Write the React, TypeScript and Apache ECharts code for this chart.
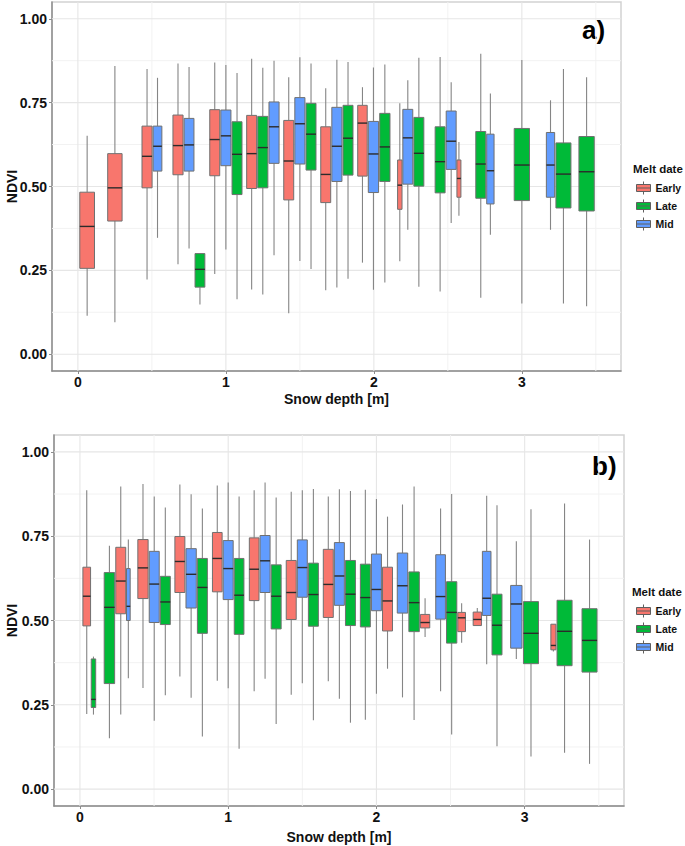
import React, { useEffect, useRef } from "react";
import * as echarts from "echarts";

const meltDates = ["Early", "Late", "Mid"];
const meltColors = ["#F8766D", "#00BA38", "#619CFF"];
const xTickValues = [0, 1, 2, 3];
const xMinorValues = [0.5, 1.5, 2.5, 3.5];
const yTickValues = [0, 0.25, 0.5, 0.75, 1];
const yMinorValues = [0.125, 0.375, 0.625, 0.875];

// [snow-depth bin, melt date, lower whisker, Q1, median, Q3, upper whisker, relative box width (sample size)]
type Box = [number, string, number, number, number, number, number, number];

const panelABoxes: Box[] = [
  [0.0625, "Early", 0.115, 0.256, 0.381, 0.483, 0.651, 0.96],
  [0.25, "Early", 0.095, 0.397, 0.496, 0.598, 0.859, 0.94],
  [0.5, "Early", 0.223, 0.496, 0.59, 0.68, 0.85, 0.66],
  [0.5, "Mid", 0.347, 0.546, 0.62, 0.68, 0.824, 0.57],
  [0.75, "Early", 0.268, 0.535, 0.622, 0.713, 0.867, 0.66],
  [0.75, "Mid", 0.315, 0.546, 0.624, 0.703, 0.856, 0.64],
  [0.75, "Late", 0.148, 0.2, 0.253, 0.3, 0.3, 0.64],
  [1, "Early", 0.239, 0.532, 0.64, 0.729, 0.87, 0.65],
  [1, "Mid", 0.312, 0.562, 0.651, 0.728, 0.862, 0.66],
  [1, "Late", 0.164, 0.476, 0.596, 0.693, 0.838, 0.65],
  [1.25, "Early", 0.193, 0.494, 0.598, 0.712, 0.881, 0.65],
  [1.25, "Late", 0.178, 0.496, 0.616, 0.709, 0.854, 0.66],
  [1.25, "Mid", 0.295, 0.569, 0.678, 0.752, 0.875, 0.66],
  [1.5, "Early", 0.122, 0.46, 0.576, 0.697, 0.826, 0.65],
  [1.5, "Mid", 0.278, 0.567, 0.687, 0.765, 0.885, 0.66],
  [1.5, "Late", 0.254, 0.549, 0.656, 0.748, 0.867, 0.65],
  [1.75, "Early", 0.191, 0.452, 0.536, 0.678, 0.793, 0.65],
  [1.75, "Mid", 0.199, 0.515, 0.62, 0.736, 0.878, 0.66],
  [1.75, "Late", 0.225, 0.534, 0.644, 0.742, 0.871, 0.65],
  [2, "Early", 0.273, 0.531, 0.689, 0.742, 0.796, 0.62],
  [2, "Mid", 0.192, 0.482, 0.597, 0.694, 0.855, 0.67],
  [2, "Late", 0.214, 0.515, 0.618, 0.718, 0.864, 0.67],
  [2.25, "Early", 0.277, 0.432, 0.504, 0.579, 0.748, 0.29],
  [2.25, "Mid", 0.371, 0.507, 0.645, 0.73, 0.817, 0.65],
  [2.25, "Late", 0.201, 0.501, 0.599, 0.706, 0.884, 0.65],
  [2.5, "Late", 0.187, 0.481, 0.574, 0.678, 0.886, 0.65],
  [2.5, "Mid", 0.391, 0.551, 0.635, 0.725, 0.811, 0.65],
  [2.5, "Early", 0.413, 0.468, 0.524, 0.579, 0.633, 0.26],
  [2.75, "Late", 0.168, 0.465, 0.567, 0.664, 0.896, 0.65],
  [2.75, "Mid", 0.356, 0.448, 0.547, 0.656, 0.777, 0.48],
  [3, "Late", 0.151, 0.458, 0.564, 0.673, 0.877, 1.0],
  [3.25, "Mid", 0.371, 0.468, 0.564, 0.661, 0.757, 0.54],
  [3.25, "Late", 0.151, 0.436, 0.537, 0.63, 0.85, 0.98],
  [3.4375, "Late", 0.143, 0.427, 0.544, 0.649, 0.826, 1.0],
];

const panelBBoxes: Box[] = [
  [0.0625, "Early", 0.223, 0.484, 0.572, 0.658, 0.886, 0.5],
  [0.0625, "Late", 0.221, 0.242, 0.266, 0.386, 0.393, 0.29],
  [0.25, "Late", 0.151, 0.313, 0.539, 0.642, 0.722, 0.68],
  [0.25, "Early", 0.221, 0.52, 0.617, 0.717, 0.897, 0.65],
  [0.25, "Mid", 0.329, 0.5, 0.542, 0.654, 0.74, 0.24],
  [0.5, "Early", 0.3, 0.565, 0.656, 0.74, 0.905, 0.67],
  [0.5, "Mid", 0.203, 0.494, 0.608, 0.705, 0.868, 0.65],
  [0.5, "Late", 0.278, 0.488, 0.555, 0.631, 0.835, 0.65],
  [0.75, "Early", 0.334, 0.583, 0.675, 0.749, 0.903, 0.65],
  [0.75, "Mid", 0.271, 0.537, 0.637, 0.713, 0.874, 0.67],
  [0.75, "Late", 0.156, 0.462, 0.598, 0.684, 0.832, 0.65],
  [1, "Early", 0.321, 0.585, 0.684, 0.761, 0.9, 0.63],
  [1, "Mid", 0.299, 0.562, 0.654, 0.737, 0.909, 0.65],
  [1, "Late", 0.12, 0.459, 0.575, 0.684, 0.868, 0.63],
  [1.25, "Early", 0.29, 0.559, 0.652, 0.745, 0.886, 0.63],
  [1.25, "Mid", 0.327, 0.583, 0.677, 0.752, 0.909, 0.65],
  [1.25, "Late", 0.193, 0.475, 0.572, 0.665, 0.865, 0.65],
  [1.5, "Early", 0.28, 0.503, 0.583, 0.678, 0.882, 0.65],
  [1.5, "Mid", 0.314, 0.569, 0.657, 0.739, 0.886, 0.65],
  [1.5, "Late", 0.204, 0.483, 0.577, 0.67, 0.89, 0.65],
  [1.75, "Early", 0.32, 0.509, 0.607, 0.711, 0.868, 0.65],
  [1.75, "Mid", 0.268, 0.545, 0.632, 0.731, 0.889, 0.65],
  [1.75, "Late", 0.197, 0.485, 0.578, 0.678, 0.884, 0.65],
  [2, "Late", 0.206, 0.481, 0.568, 0.667, 0.888, 0.65],
  [2, "Mid", 0.283, 0.529, 0.592, 0.697, 0.86, 0.65],
  [2, "Early", 0.357, 0.469, 0.558, 0.658, 0.808, 0.65],
  [2.25, "Mid", 0.272, 0.522, 0.603, 0.7, 0.844, 0.68],
  [2.25, "Late", 0.205, 0.467, 0.553, 0.644, 0.897, 0.68],
  [2.25, "Early", 0.451, 0.478, 0.494, 0.518, 0.566, 0.61],
  [2.5, "Mid", 0.29, 0.504, 0.571, 0.695, 0.832, 0.63],
  [2.5, "Late", 0.162, 0.433, 0.524, 0.615, 0.875, 0.67],
  [2.5, "Early", 0.434, 0.467, 0.508, 0.524, 0.551, 0.5],
  [2.75, "Early", 0.485, 0.485, 0.503, 0.525, 0.537, 0.54],
  [2.75, "Mid", 0.37, 0.515, 0.566, 0.705, 0.87, 0.56],
  [2.75, "Late", 0.127, 0.398, 0.486, 0.578, 0.842, 0.65],
  [3, "Mid", 0.386, 0.418, 0.549, 0.604, 0.735, 0.74],
  [3, "Late", 0.097, 0.372, 0.462, 0.556, 0.83, 0.98],
  [3.25, "Early", 0.408, 0.413, 0.426, 0.489, 0.489, 0.33],
  [3.25, "Late", 0.108, 0.366, 0.468, 0.56, 0.847, 0.98],
  [3.4375, "Late", 0.075, 0.347, 0.441, 0.535, 0.74, 0.98],
];

const FONT = "'Liberation Sans', Arial, sans-serif";
const SLOT = 0.115; // dodge slot (x data units) of a full-width box
const PAD = 0.9;

function dodge(boxes: Box[]) {
  const bins = new Map<number, Box[]>();
  boxes.forEach((b) => {
    if (!bins.has(b[0])) bins.set(b[0], []);
    bins.get(b[0])!.push(b);
  });
  const out: { melt: string; value: number[] }[] = [];
  bins.forEach((list, bin) => {
    const total = list.reduce((s, b) => s + b[7] * SLOT, 0);
    let cur = bin - total / 2;
    list.forEach((b) => {
      const slot = b[7] * SLOT;
      out.push({ melt: b[1], value: [cur + slot / 2, b[2], b[3], b[4], b[5], b[6], slot * PAD] });
      cur += slot;
    });
  });
  return out;
}

function renderBox(_params: any, api: any) {
  const cx = api.value(0);
  const w = api.value(6);
  const pLo = api.coord([cx, api.value(1)]);
  const pQ1 = api.coord([cx, api.value(2)]);
  const pMed = api.coord([cx, api.value(3)]);
  const pQ3 = api.coord([cx, api.value(4)]);
  const pHi = api.coord([cx, api.value(5)]);
  const xl = api.coord([cx - w / 2, 0])[0];
  const xr = api.coord([cx + w / 2, 0])[0];
  const xc = pMed[0];
  const color = api.visual("color");
  const whisker = { stroke: "#858585", lineWidth: 1.1 };
  return {
    type: "group",
    children: [
      { type: "line", shape: { x1: xc, y1: pHi[1], x2: xc, y2: pQ3[1] }, style: whisker },
      { type: "line", shape: { x1: xc, y1: pQ1[1], x2: xc, y2: pLo[1] }, style: whisker },
      {
        type: "rect",
        shape: { x: xl, y: pQ3[1], width: xr - xl, height: pQ1[1] - pQ3[1] },
        style: { fill: color, stroke: "#707070", lineWidth: 1 },
      },
      {
        type: "line",
        shape: { x1: xl, y1: pMed[1], x2: xr, y2: pMed[1] },
        style: { stroke: "#2b2b2b", lineWidth: 1.4 },
      },
    ],
  };
}

// grid line item: [value, orientation (0 = vertical at x, 1 = horizontal at y), major (1) / minor (0)]
function renderGridLine(params: any, api: any) {
  const v = api.value(0);
  const horiz = api.value(1) === 1;
  const major = api.value(2) === 1;
  const cs = params.coordSys;
  const style = { stroke: major ? "#e6e6e6" : "#f2f2f2", lineWidth: major ? 1.1 : 1 };
  if (horiz) {
    const y = api.coord([0, v])[1];
    return { type: "line", shape: { x1: cs.x, y1: y, x2: cs.x + cs.width, y2: y }, style };
  }
  const x = api.coord([v, 0])[0];
  return { type: "line", shape: { x1: x, y1: cs.y, x2: x, y2: cs.y + cs.height }, style };
}

const LEGEND_ICON = "path://M7,0V3M0,3H14V10H0ZM0,6.5H14M7,10V13";

export default function App() {
  const ref = useRef<HTMLDivElement>(null);
  useEffect(() => {
    if (!ref.current) return;
    const chart = echarts.init(ref.current, undefined, { renderer: "svg" });

    const grids = [
      { left: 52, top: 2, width: 569, height: 369 },
      { left: 54, top: 435, width: 570, height: 371 },
    ];
    const panels = [panelABoxes, panelBBoxes];

    const gridData = [
      ...xMinorValues.map((v) => [v, 0, 0]),
      ...yMinorValues.map((v) => [v, 1, 0]),
      ...xTickValues.map((v) => [v, 0, 1]),
      ...yTickValues.map((v) => [v, 1, 1]),
    ];

    const series: any[] = [];
    panels.forEach((boxes, p) => {
      series.push({
        type: "custom",
        name: "grid" + p,
        xAxisIndex: p,
        yAxisIndex: p,
        z: 1,
        silent: true,
        clip: true,
        renderItem: renderGridLine,
        data: gridData,
      });
      const laid = dodge(boxes);
      meltDates.forEach((m, i) => {
        series.push({
          type: "custom",
          name: m,
          xAxisIndex: p,
          yAxisIndex: p,
          z: 3,
          itemStyle: { color: meltColors[i] },
          encode: { x: 0, y: [1, 2, 3, 4, 5] },
          renderItem: renderBox,
          data: laid.filter((d) => d.melt === m).map((d) => d.value),
        });
      });
    });

    const xAxisNameGaps = [21, 24];
    const xAxes = grids.map((_, p) => ({
      type: "value",
      gridIndex: p,
      min: -0.175,
      max: 3.67,
      name: "Snow depth [m]",
      nameLocation: "middle",
      nameGap: xAxisNameGaps[p],
      nameMoveOverlap: false,
      nameTextStyle: { fontFamily: FONT, fontWeight: "bold", fontSize: 14, color: "#111", verticalAlign: "top" },
      axisLine: { show: true, onZero: false, lineStyle: { color: "#8c8c8c", width: 1.5 } },
      axisTick: { show: true, length: 3, customValues: xTickValues, lineStyle: { color: "#8c8c8c" } },
      axisLabel: {
        customValues: xTickValues,
        margin: 4,
        fontFamily: FONT,
        fontWeight: "bold",
        fontSize: 14,
        color: "#111",
        formatter: (v: number) => String(v),
      },
      splitLine: { show: false },
    }));
    const yNameGaps = [33, 35];
    const yAxes = grids.map((_, p) => ({
      type: "value",
      gridIndex: p,
      min: -0.05,
      max: 1.05,
      name: "NDVI",
      nameLocation: "middle",
      nameGap: yNameGaps[p],
      nameMoveOverlap: false,
      nameTextStyle: { fontFamily: FONT, fontWeight: "bold", fontSize: 14, color: "#111" },
      axisLine: { show: true, onZero: false, lineStyle: { color: "#8c8c8c", width: 1.5 } },
      axisTick: { show: true, length: 3, customValues: yTickValues, lineStyle: { color: "#8c8c8c" } },
      axisLabel: {
        customValues: yTickValues,
        margin: 5,
        fontFamily: FONT,
        fontWeight: "bold",
        fontSize: 14,
        color: "#111",
        formatter: (v: number) => v.toFixed(2),
      },
      splitLine: { show: false },
    }));

    const legendTops = [181, 604];
    const legends = legendTops.map((top) => ({
      orient: "vertical",
      left: 636,
      top,
      padding: 0,
      itemWidth: 14,
      itemHeight: 13,
      itemGap: 4,
      icon: LEGEND_ICON,
      selectedMode: false,
      itemStyle: { borderColor: "#5f5f5f", borderWidth: 1 },
      textStyle: { fontFamily: FONT, fontWeight: "bold", fontSize: 10.5, color: "#111" },
      data: meltDates,
    }));

    chart.setOption({
      animation: false,
      backgroundColor: "#ffffff",
      grid: grids.map((g) => ({
        ...g,
        containLabel: false,
        outerBoundsMode: "none",
        show: true,
        borderColor: "#d2d2d2",
        borderWidth: 1.5,
        backgroundColor: "#fff",
      })),
      xAxis: xAxes,
      yAxis: yAxes,
      legend: legends,
      series,
      graphic: [
        { type: "text", left: 633, top: 163, style: { text: "Melt date", fontFamily: FONT, fontWeight: "bold", fontSize: 11.5, fill: "#111" } },
        { type: "text", left: 632, top: 586, style: { text: "Melt date", fontFamily: FONT, fontWeight: "bold", fontSize: 11.5, fill: "#111" } },
        { type: "text", x: 582, y: 30, style: { text: "a)", fontFamily: FONT, fontWeight: "bold", fontSize: 26, fill: "#000", verticalAlign: "middle" } },
        { type: "text", x: 592, y: 466, style: { text: "b)", fontFamily: FONT, fontWeight: "bold", fontSize: 26, fill: "#000", verticalAlign: "middle" } },
      ],
    });
    return () => chart.dispose();
  }, []);
  return <div ref={ref} style={{ position: "fixed", left: 0, top: 0, width: 685, height: 846 }} />;
}
